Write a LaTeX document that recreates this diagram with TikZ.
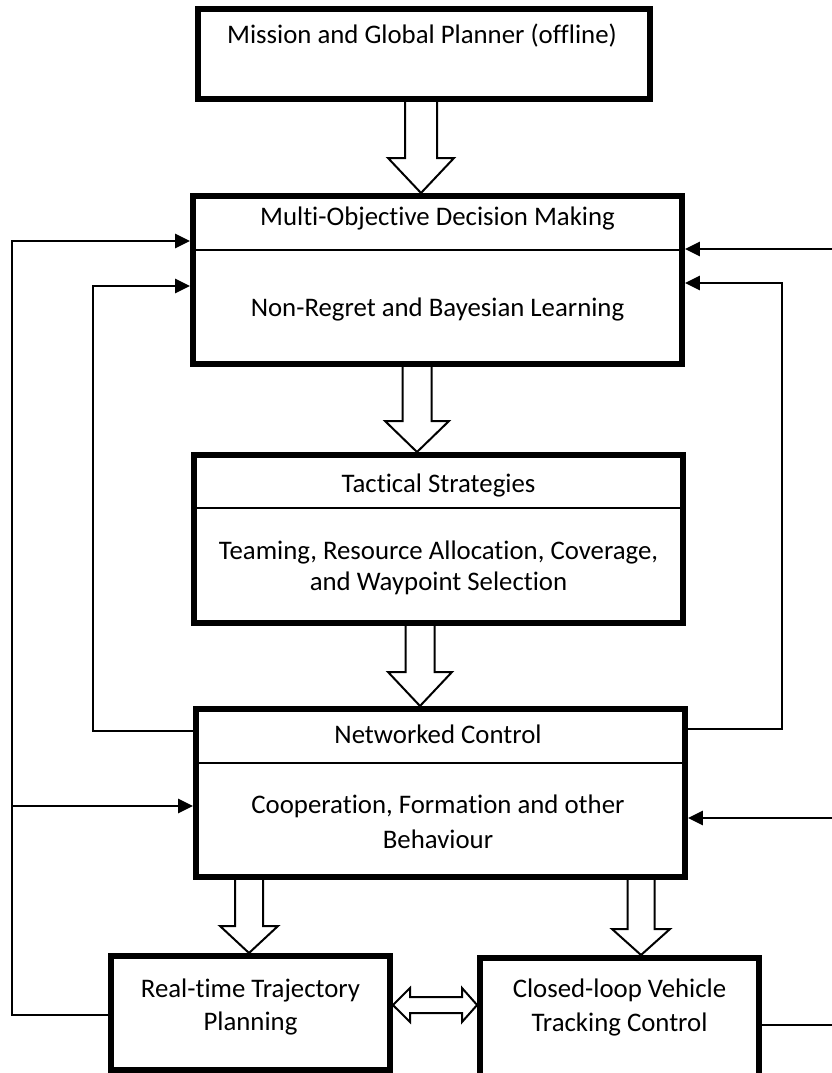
\documentclass[tikz,border=0pt]{standalone}
\usepackage{fontspec}
\setmainfont{Carlito}[Ligatures={NoCommon}]
\usetikzlibrary{arrows.meta}

% Hollow downward block arrow: centre x, half shaft, half head, top y, head y, tip y
\newcommand\blockdown[6]{%
  \draw[hollow] (#1-#2,#4) -- (#1-#2,#5) -- (#1-#3,#5) -- (#1,#6)
    -- (#1+#3,#5) -- (#1+#2,#5) -- (#1+#2,#4);}

\begin{document}
\begin{tikzpicture}[x=1pt,y=-1pt,
  box/.style={draw, line width=5.8pt, inner sep=0pt},
  txt/.style={anchor=base, inner sep=0pt, font=\fontsize{26.8}{32}\selectfont},
  divider/.style={line width=2pt},
  fb/.style={line width=2.4pt, -{Triangle[length=15pt,width=14pt]}},
  hollow/.style={draw, line width=2pt, fill=white, line join=miter}]

\useasboundingbox (0,0) rectangle (832,1073);

% blocks
\node[box, minimum width=452pt, minimum height=90pt]  (b1) at (424,54) {};
\node[box, minimum width=489pt, minimum height=168pt] (b2) at (437.5,280) {};
\node[box, minimum width=489pt, minimum height=168pt] (b3) at (438.5,539) {};
\node[box, minimum width=489pt, minimum height=168pt] (b4) at (440.5,793) {};
\node[box, minimum width=279pt, minimum height=114pt] (b5) at (250.5,1013) {};
\node[box, minimum width=279pt, minimum height=118pt] (b6) at (619.5,1017) {};

% header dividers
\draw[divider] (b2.west |- 0,250) -- (b2.east |- 0,250);
\draw[divider] (b3.west |- 0,508) -- (b3.east |- 0,508);
\draw[divider] (b4.west |- 0,763) -- (b4.east |- 0,763);

% texts
\node[txt] (t1)  at (422,44)    {Mission and Global Planner (offline)};
\node[txt] (t2a) at (437.5,225) {Multi-Objective Decision Making};
\node[txt] (t2b) at (437.5,316) {Non-Regret and Bayesian Learning};
\node[txt] (t3a) at (438.5,492) {Tactical Strategies};
\node[txt] (t3b) at (438.5,559) {Teaming, Resource Allocation, Coverage,};
\node[txt] (t3c) at (438.5,590) {and Waypoint Selection};
\node[txt] (t4a) at (438,743)   {Networked Control};
\node[txt] (t4b) at (438,813)   {Cooperation, Formation and other};
\node[txt] (t4c) at (438,848)   {Behaviour};
\node[txt] (t5a) at (250.5,997) {Real-time Trajectory};
\node[txt] (t5b) at (250.5,1030){Planning};
\node[txt] (t6a) at (619.5,997) {Closed-loop Vehicle};
\node[txt] (t6b) at (619.5,1031){Tracking Control};

% hollow flow arrows
\blockdown{421}{16}{33}{102}{158}{193}
\blockdown{417}{14.5}{32}{367}{421}{452}
\blockdown{420}{14.5}{32}{626}{672}{706}
\blockdown{249}{14}{29}{880}{926}{953}
\blockdown{641}{13.5}{29}{880}{929}{955}

% two-way hollow arrow between the bottom blocks
\draw[hollow] (b5.east |- 0,1005) -- (410,988) -- (410,997) -- (462,997) -- (462,988)
  -- (b6.west |- 0,1005) -- (462,1022) -- (462,1013) -- (410,1013) -- (410,1022) -- cycle;

% feedback rails
\coordinate (railL)  at (12,0);
\coordinate (railLi) at (93,0);
\coordinate (railRi) at (782,0);
\coordinate (railR)  at (836,0);

\draw[fb] (b5.west |- 0,1015) -| (railL |- 0,241) -- (b2.west |- 0,241);
\draw[fb] (railL |- 0,806) -- (b4.west |- 0,806);
\draw[fb] (b4.west |- 0,731) -| (railLi |- 0,286) -- (b2.west |- 0,286);
\draw[fb] (b4.east |- 0,729) -| (railRi |- 0,283) -- (b2.east |- 0,283);
\draw[fb] (b6.east |- 0,1025) -| (railR |- 0,249) -- (b2.east |- 0,249);
\draw[fb] (railR |- 0,818) -- (b4.east |- 0,818);
\end{tikzpicture}
\end{document}
